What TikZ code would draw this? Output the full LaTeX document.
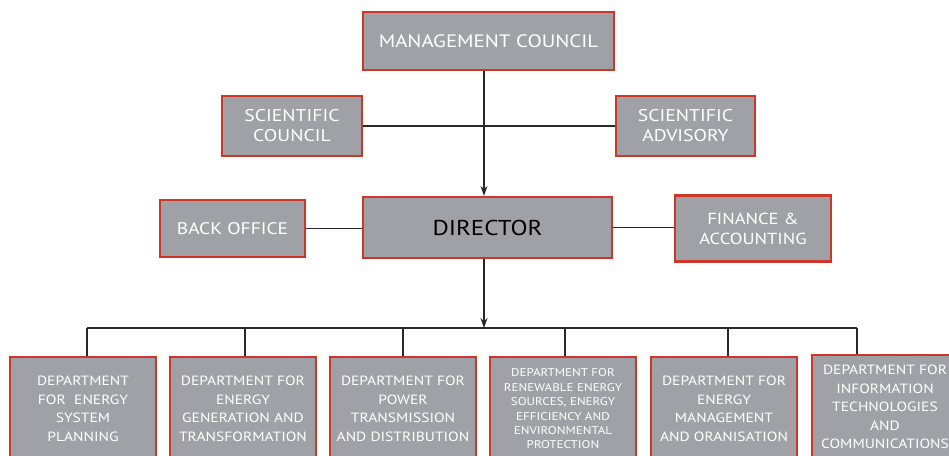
\documentclass[tikz,border=0pt]{standalone}
\usepackage{fontspec}
\setmainfont[FakeStretch=1.16]{PT Sans}
\usetikzlibrary{arrows.meta}
\definecolor{boxgray}{RGB}{160,161,166}
\definecolor{boxred}{RGB}{205,55,40}
\definecolor{linegray}{RGB}{40,40,40}
\begin{document}
\begin{tikzpicture}[x=1pt,y=-1pt,
  box/.style={draw=boxred, line width=2.2pt, fill=boxgray, text=white, align=center, inner sep=0pt},
  dept/.style={box, minimum width=146, minimum height=104, font=\fontsize{13.4}{18.5}\selectfont},
  conn/.style={line width=1.1pt, draw=linegray},
  arr/.style={conn, -{Stealth[length=10pt,width=7pt]}}]
\useasboundingbox (0,0) rectangle (949,455);
\clip (0,0) rectangle (949,455);
\fill[white] (0,0) rectangle (949,455);

\node[box, minimum width=251, minimum height=58, font=\fontsize{18}{20}\selectfont] (mc) at (488.5,41) {MANAGEMENT COUNCIL};
\node[box, minimum width=140, minimum height=60, font=\fontsize{17}{20}\selectfont] (sc) at (292,126) {SCIENTIFIC\\COUNCIL};
\node[box, minimum width=139, minimum height=60, font=\fontsize{17}{20}\selectfont] (sa) at (685.5,126) {SCIENTIFIC\\ADVISORY};
\node[box, minimum width=249, minimum height=61, text=black, font=\fontsize{21.5}{26}\selectfont] (dir) at (487.5,227.5) {DIRECTOR};
\node[box, minimum width=145, minimum height=57, font=\fontsize{16.8}{19}\selectfont] (bo) at (232.5,228.5) {BACK OFFICE};
\node[box, minimum width=156, minimum height=66, font=\fontsize{16}{20}\selectfont] (fa) at (753,228.5) {FINANCE \&\\ACCOUNTING};

\node[dept] (d1) at (83,409) {DEPARTMENT\\FOR ~ENERGY\\SYSTEM\\PLANNING};
\node[dept] (d2) at (243,409) {DEPARTMENT FOR\\ENERGY\\GENERATION AND\\TRANSFORMATION};
\node[dept] (d3) at (403,409) {DEPARTMENT FOR\\POWER\\TRANSMISSION\\AND DISTRIBUTION};
\node[dept, font=\fontsize{11.2}{14.4}\selectfont] (d4) at (563,409) {DEPARTMENT FOR\\RENEWABLE ENERGY\\SOURCES, ENERGY\\EFFICIENCY AND\\ENVIRONMENTAL\\PROTECTION};
\node[dept] (d5) at (724,409) {DEPARTMENT FOR\\ENERGY\\MANAGEMENT\\AND ORANISATION};
\node[dept] (d6) at (885,407) {DEPARTMENT FOR\\INFORMATION\\TECHNOLOGIES\\AND\\COMMUNICATIONS};

\draw[arr] ([xshift=-4.5]mc.south) -- ([xshift=-3.5]dir.north);
\draw[conn] (sc.east) -- (sa.west);
\draw[conn] (bo.east) -- (bo.east -| dir.west);
\draw[conn] (dir.east) -- (dir.east -| fa.west);

\coordinate (bus) at (484,328);
\coordinate (t1) at (87,328);
\coordinate (t2) at (245,328);
\coordinate (t3) at (403,328);
\coordinate (t4) at (565,328);
\coordinate (t5) at (728,328);
\coordinate (t6) at (857,328);
\draw[arr] ([xshift=-3.5]dir.south) -- (bus);
\draw[conn] (t1) -- (t6);
\foreach \i in {1,...,6} { \draw[conn] (t\i) -- (t\i |- d\i.north); }
\end{tikzpicture}
\end{document}
